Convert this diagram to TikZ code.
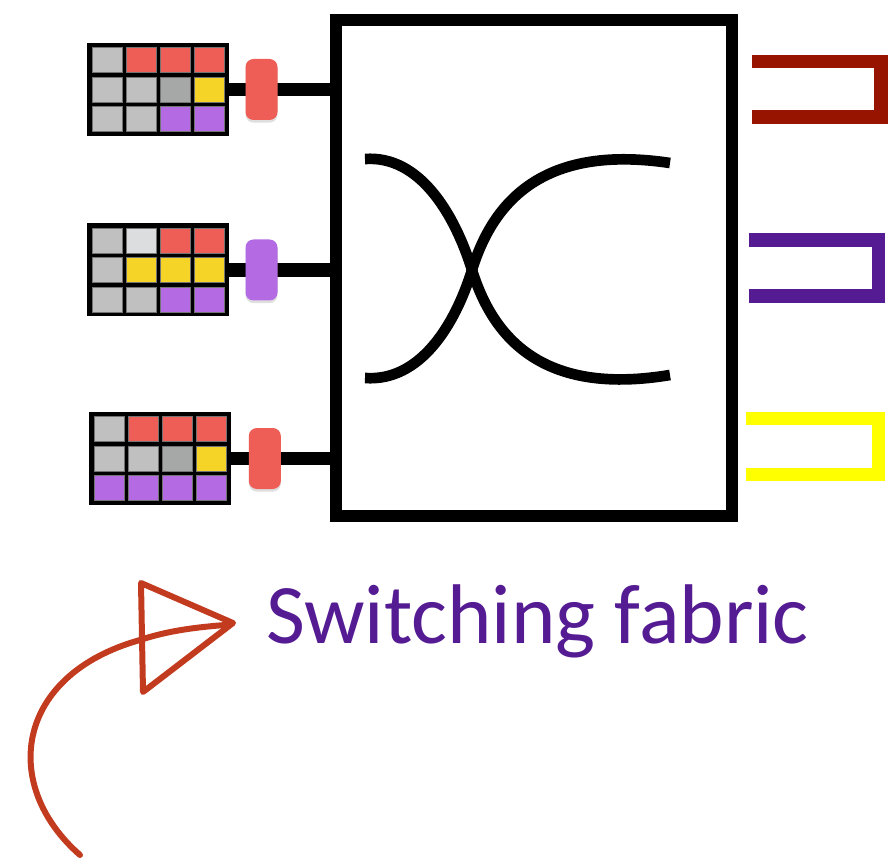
\documentclass[tikz,border=0pt]{standalone}
\usepackage{fontspec}
\usepackage{tikz}
\usetikzlibrary{arrows.meta,positioning,calc,shadows}
\newfontfamily\labelfont{Carlito}

\definecolor{cgray}{HTML}{C0C0C0}
\definecolor{clight}{HTML}{DCDDDF}
\definecolor{cdark}{HTML}{A5A8A7}
\definecolor{cred}{HTML}{EE5E57}
\definecolor{cyellow}{HTML}{F5D327}
\definecolor{cpurple}{HTML}{B36AE2}
\definecolor{portred}{HTML}{961400}
\definecolor{portpurple}{HTML}{541B93}
\definecolor{portyellow}{HTML}{FFFF00}
\definecolor{sketch}{HTML}{C23B1E}

% one row of a queue grid: grid node, row index, four colours
\newcommand{\gridrow}[6]{%
  \foreach \c [count=\i from 0] in {#3,#4,#5,#6}
    \node[cell,fill=\c] at ($(#1)+({(\i-1.5)*34},{(#2-1)*29.5})$) {};}

\begin{document}
\begin{tikzpicture}[x=0.75pt,y=-0.75pt,>=Latex,
queue/.style={fill=black,inner sep=0pt,minimum width=106.5pt,minimum height=69.75pt},
cell/.style={draw=black!55,line width=0.4pt,inner sep=0pt,minimum width=22.5pt,minimum height=18.75pt},
pill/.style={rounded corners=6pt,inner sep=0pt,minimum width=24pt,minimum height=45.75pt,
  drop shadow={opacity=0.25,shadow xshift=0pt,shadow yshift=-2pt}},
link/.style={line width=10pt},
port/.style={line width=10pt}]
\useasboundingbox (0,0) rectangle (889,866);

% switch
\node[draw,line width=9pt,inner sep=0pt,minimum width=297pt,minimum height=372pt] (fabric) at (534,268) {};
\draw[line width=8pt] (365,159) .. controls (420,155) and (455,215) .. (472,270)
  .. controls (495,345) and (550,395) .. (670,375);
\draw[line width=8pt] (365,378) .. controls (420,382) and (455,325) .. (472,270)
  .. controls (495,195) and (550,145) .. (670,163);

% input queues
\node[queue] (q1) at (158,89.5) {};
\node[queue] (q2) at (158,270) {};
\node[queue] (q3) at (160,458.5) {};
\gridrow{q1}{0}{cgray}{cred}{cred}{cred}
\gridrow{q1}{1}{cgray}{cgray}{cdark}{cyellow}
\gridrow{q1}{2}{cgray}{cgray}{cpurple}{cpurple}
\gridrow{q2}{0}{cgray}{clight}{cred}{cred}
\gridrow{q2}{1}{cgray}{cyellow}{cyellow}{cyellow}
\gridrow{q2}{2}{cgray}{cgray}{cpurple}{cpurple}
\gridrow{q3}{0}{cgray}{cred}{cred}{cred}
\gridrow{q3}{1}{cgray}{cgray}{cdark}{cyellow}
\gridrow{q3}{2}{cpurple}{cpurple}{cpurple}{cpurple}

\draw[link] (q1.east) -- node[pill,fill=cred,pos=0.32] (h1) {} (q1.east -| fabric.west);
\draw[link] (q2.east) -- node[pill,fill=cpurple,pos=0.32] (h2) {} (q2.east -| fabric.west);
\draw[link] (q3.east) -- node[pill,fill=cred,pos=0.34] (h3) {} (q3.east -| fabric.west);

% output ports
\draw[port,portred] (752,61.5) -- (881,61.5) -- (881,117) -- (752,117);
\draw[port,portpurple] (749,240) -- (878.5,240) -- (878.5,296) -- (749,296);
\draw[port,portyellow] (746,418.5) -- (878.5,418.5) -- (878.5,474.5) -- (746,474.5);

% label
\node[anchor=base west,inner sep=0pt,text=portpurple,font=\labelfont\fontsize{63.5}{64}\selectfont] (title) at (266,643) {Switching fabric};

% sketched arrow
\coordinate (tail) at (80,855);
\coordinate (tip) at (233,623);
\draw[sketch,line width=4.5pt,line cap=round] (tail) .. controls (0,785) and (15,675) .. (140,640)
  .. controls (170,630) and (200,627) .. (225,625);
\draw[sketch,line width=4.5pt,line cap=round,line join=round] (tip) -- (141,583) -- (143,692) -- cycle;
\end{tikzpicture}
\end{document}
